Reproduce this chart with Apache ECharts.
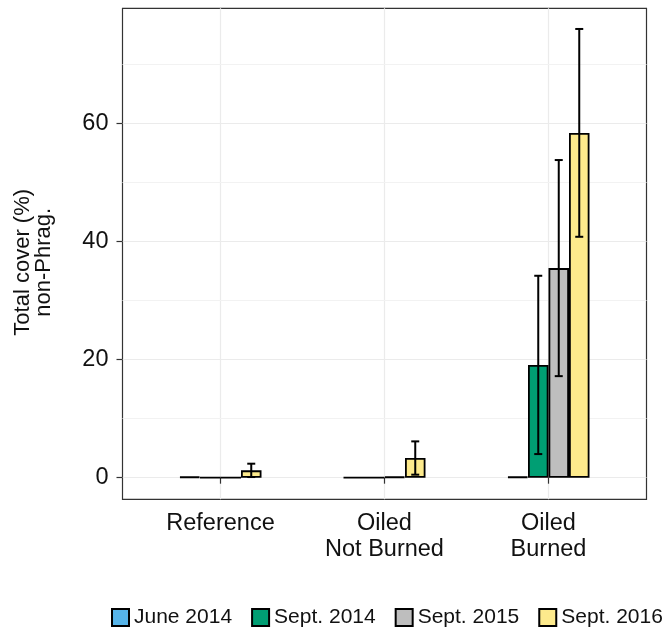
<!DOCTYPE html>
<html>
<head>
<meta charset="utf-8">
<script src="https://cdn.jsdelivr.net/npm/echarts@6/dist/echarts.min.js"></script>
<style>html,body{margin:0;padding:0;background:#fff}#c{width:664px;height:631px}</style>
</head>
<body>
<div id="c"></div>
<script>
// ---- data ----
const categories = ['Reference', 'Oiled\nNot Burned', 'Oiled\nBurned'];
const seriesNames = ['June 2014', 'Sept. 2014', 'Sept. 2015', 'Sept. 2016'];
const june2014 = [0.15, 0, 0.15];
const sept2014 = [0, 0, 19.1];
const sept2015 = [0, 0.15, 35.5];
const sept2016 = [1.24, 3.33, 58.4];
const june2014Se = [0, 0, 0];
const sept2014Se = [0, 0, 15.1];
const sept2015Se = [0, 0, 18.3];
const sept2016Se = [1.13, 2.82, 17.6];
const yTicks = [0, 20, 40, 60];
const yMinorTicks = [10, 30, 50, 70];
const yMin = -3.66, yMax = 79.5;

// ---- build ----
const means = [june2014, sept2014, sept2015, sept2016];
const ses = [june2014Se, sept2014Se, sept2015Se, sept2016Se];
const colors = ['#56B4E9', '#009E73', '#BEBEBE', '#FDEA8C'];
const barW = 20.5;
const errData = [];
means.forEach((arr, s) => arr.forEach((m, c) => {
  const e = ses[s][c];
  if (e > 0) errData.push([c, m - e, m + e, s]);
}));

const chart = echarts.init(document.getElementById('c'), null, {renderer: 'canvas'});
const fontFam = 'Liberation Sans, Arial, sans-serif';
const gridTop = 8.3, gridH = 491;

const barSeries = seriesNames.map((n, i) => ({
  name: n, type: 'bar', xAxisIndex: 1, yAxisIndex: 1,
  data: means[i], barWidth: barW, barGap: '0%', clip: false, z: 2,
  itemStyle: {color: colors[i], borderColor: '#000', borderWidth: 1.8},
  emphasis: {disabled: true}
}));

chart.setOption({
  animation: false,
  backgroundColor: '#fff',
  grid: [
    {left: 122.5, top: gridTop, width: 524, height: gridH, show: true, borderColor: '#333', borderWidth: 1.2, backgroundColor: '#fff', containLabel: false},
    {left: 220.5, top: gridTop, width: 328, height: gridH, containLabel: false}
  ],
  xAxis: [
    {type: 'category', gridIndex: 0, data: categories, show: false},
    {type: 'category', gridIndex: 1, data: categories, boundaryGap: false,
     axisLine: {show: false},
     axisTick: {show: true, length: 6, lineStyle: {color: '#333', width: 1.2}},
     axisLabel: {fontSize: 23.5, color: '#111', fontFamily: fontFam, margin: 11, lineHeight: 26, interval: 0},
     splitLine: {show: true, lineStyle: {color: '#EBEBEB', width: 1.2}}}
  ],
  yAxis: [
    {type: 'value', gridIndex: 0, min: yMin, max: yMax,
     name: 'Total cover (%)\nnon-Phrag.', nameLocation: 'middle', nameRotate: 90, nameGap: 68,
     nameTextStyle: {fontSize: 22, color: '#111', fontFamily: fontFam, lineHeight: 21, padding: [0, 17, 0, 0]},
     axisLine: {show: false},
     axisTick: {show: true, length: 6, customValues: yTicks, lineStyle: {color: '#333', width: 1.2}},
     axisLabel: {customValues: yTicks, fontSize: 23.5, color: '#111', fontFamily: fontFam, margin: 14},
     splitLine: {show: true, lineStyle: {color: '#EBEBEB', width: 1.2}}},
    {type: 'value', gridIndex: 1, min: yMin, max: yMax, show: false, splitLine: {show: false}}
  ],
  legend: {
    data: seriesNames, left: 111, top: 607, width: 553, padding: 0,
    itemWidth: 17, itemHeight: 17, itemGap: 19, itemTextGap: 6,
    icon: 'rect', selectedMode: false,
    textStyle: {fontSize: 21, color: '#111', fontFamily: fontFam}
  },
  series: [
    {type: 'line', xAxisIndex: 0, yAxisIndex: 0, data: [], z: 0, silent: true,
     markLine: {silent: true, symbol: 'none', label: {show: false}, z: 0,
       lineStyle: {color: '#F2F2F2', width: 1, type: 'solid'},
       data: yMinorTicks.map(v => ({yAxis: v}))}},
    ...barSeries,
    {type: 'custom', xAxisIndex: 1, yAxisIndex: 1, data: errData, z: 3, clip: false, silent: true,
     renderItem: function (params, api) {
       const c = api.value(0), lo = api.value(1), hi = api.value(2), s = api.value(3);
       const pHi = api.coord([c, hi]), pLo = api.coord([c, lo]);
       const x = pHi[0] + (s - 1.5) * barW;
       const cap = 4;
       const st = {stroke: '#000', lineWidth: 2};
       return {type: 'group', children: [
         {type: 'line', shape: {x1: x, y1: pHi[1], x2: x, y2: pLo[1]}, style: st},
         {type: 'line', shape: {x1: x - cap, y1: pHi[1], x2: x + cap, y2: pHi[1]}, style: st},
         {type: 'line', shape: {x1: x - cap, y1: pLo[1], x2: x + cap, y2: pLo[1]}, style: st}
       ]};
     }}
  ]
});
</script>
</body>
</html>
